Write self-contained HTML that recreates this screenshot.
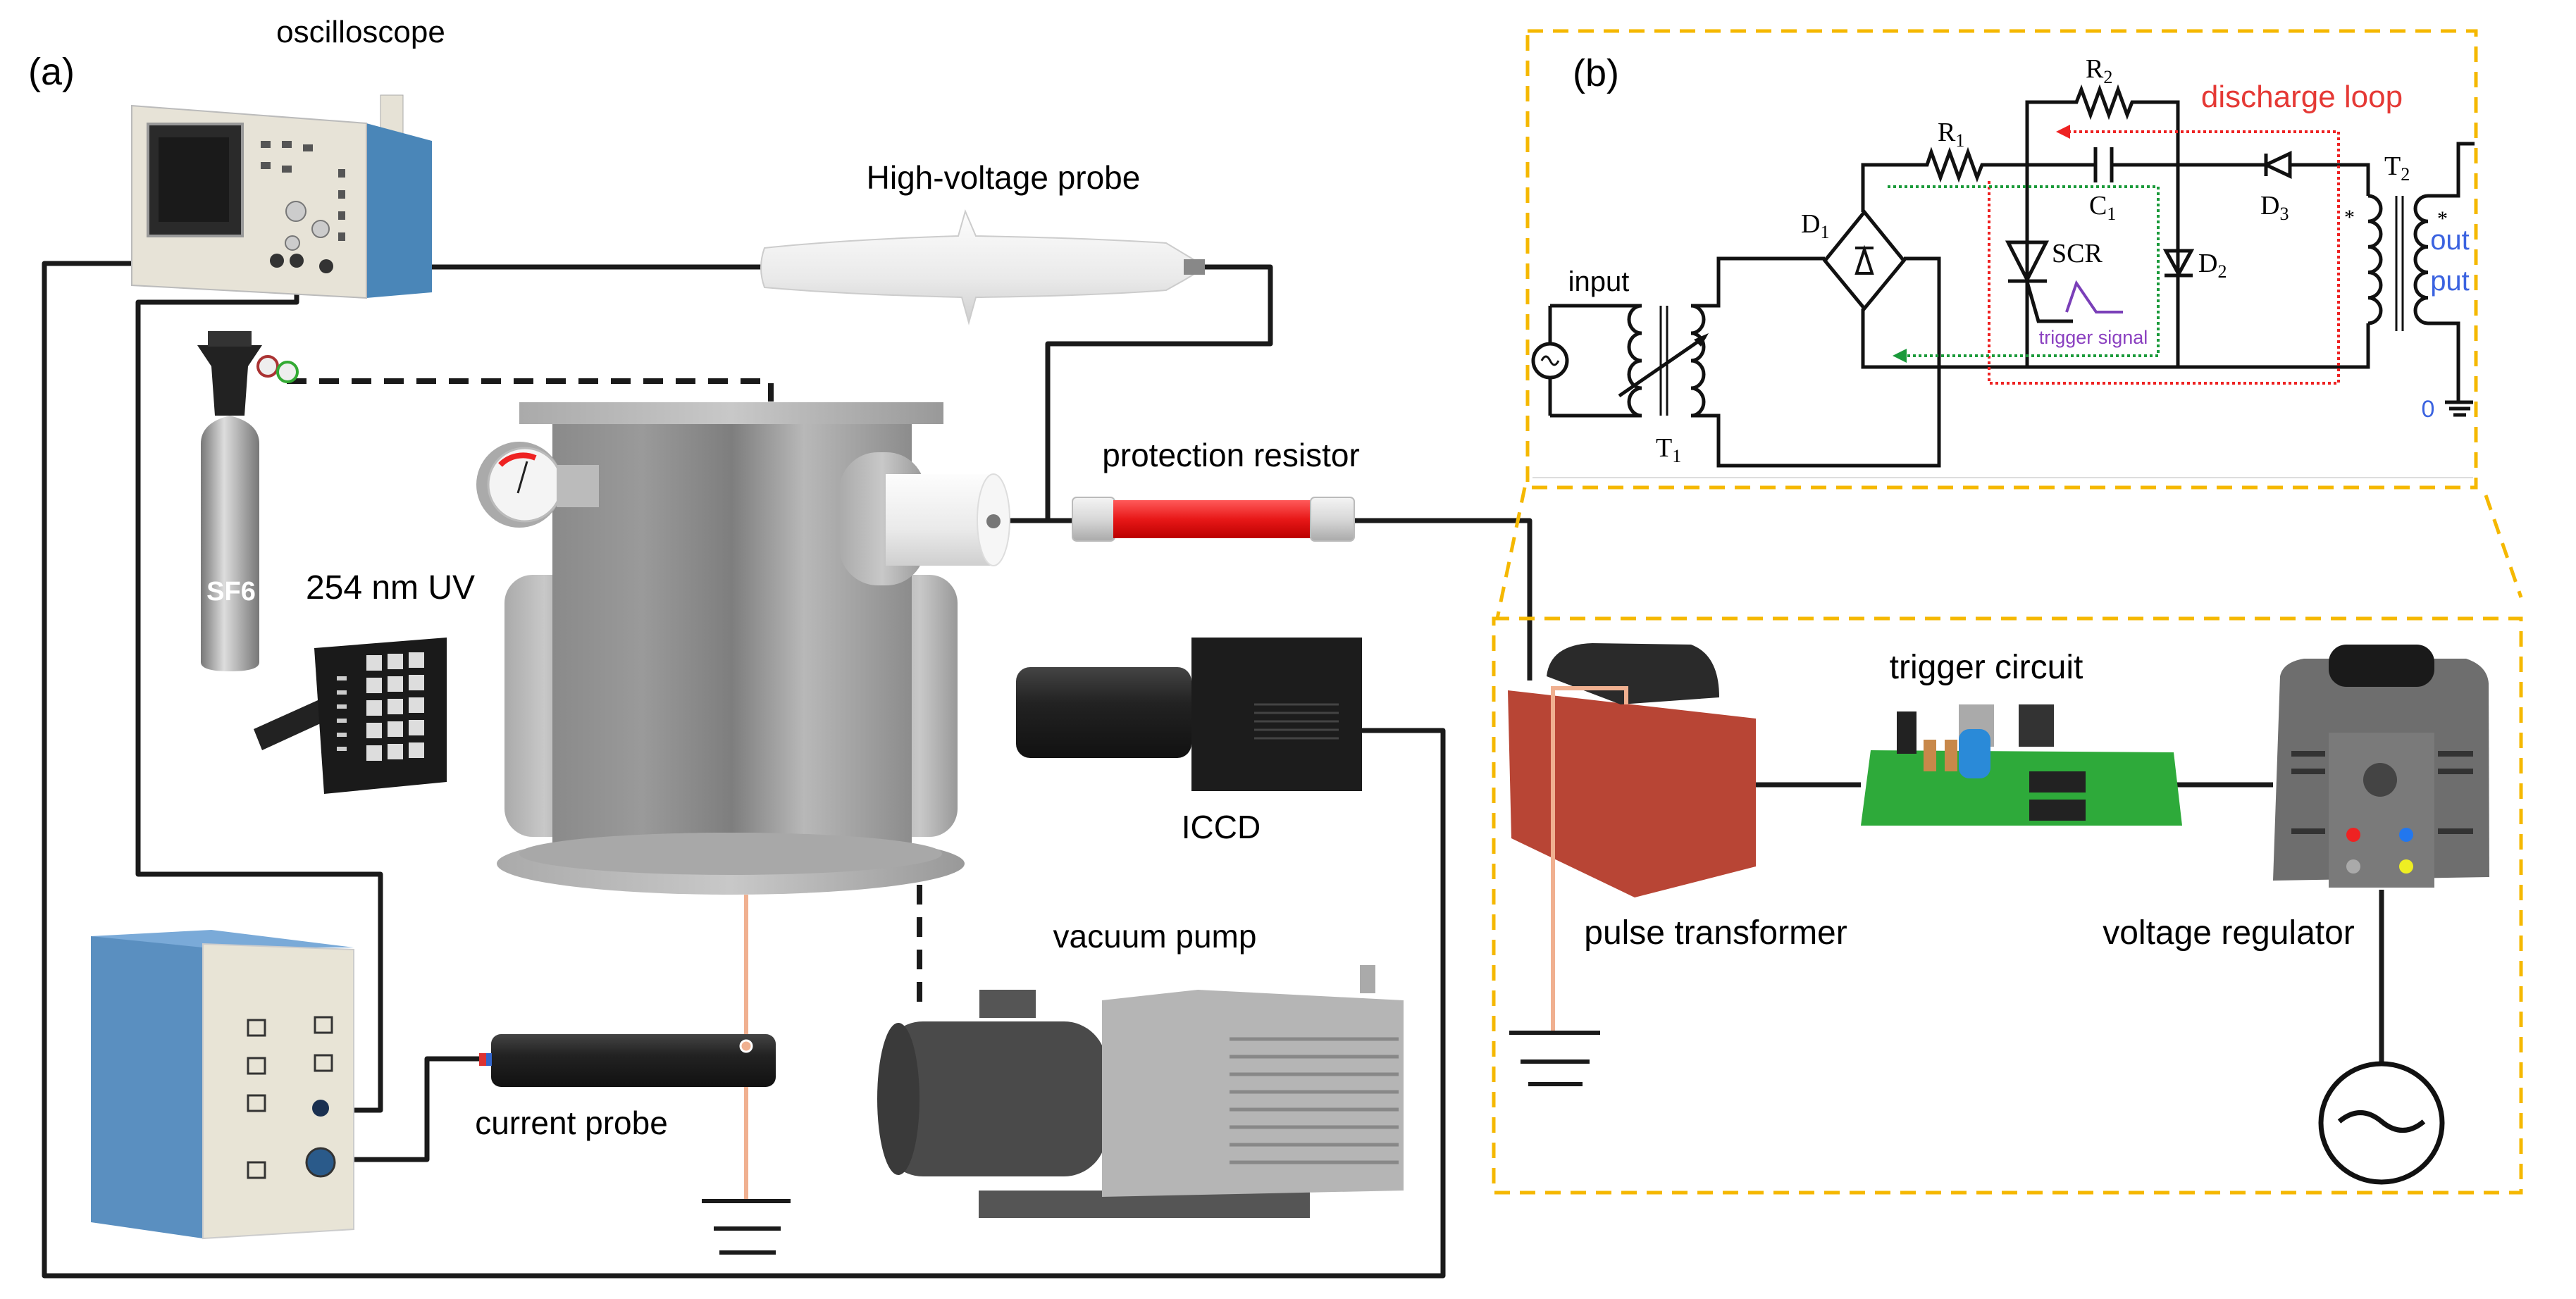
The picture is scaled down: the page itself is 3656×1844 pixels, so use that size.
<!DOCTYPE html>
<html><head><meta charset="utf-8"><style>
html,body{margin:0;padding:0;background:#fff;}
svg{display:block;}
text{font-family:"Liberation Sans",sans-serif;}
.s{font-family:"Liberation Serif",serif;}
</style></head><body>
<svg width="3656" height="1844" viewBox="0 0 3656 1844" xmlns="http://www.w3.org/2000/svg">
<defs>
<linearGradient id="steel" x1="0" x2="1" y1="0" y2="0">
<stop offset="0" stop-color="#8a8a8a"/><stop offset="0.25" stop-color="#9a9a9a"/><stop offset="0.5" stop-color="#7e7e7e"/><stop offset="0.7" stop-color="#b8b8b8"/><stop offset="1" stop-color="#8c8c8c"/></linearGradient>
<linearGradient id="flange" x1="0" x2="1"><stop offset="0" stop-color="#aaa"/><stop offset="0.5" stop-color="#c8c8c8"/><stop offset="1" stop-color="#999"/></linearGradient>
<linearGradient id="white" x1="0" x2="0" y1="0" y2="1"><stop offset="0" stop-color="#fdfdfd"/><stop offset="0.6" stop-color="#eaeaea"/><stop offset="1" stop-color="#cfcfcf"/></linearGradient>
<linearGradient id="cyl" x1="0" x2="1"><stop offset="0" stop-color="#777"/><stop offset="0.4" stop-color="#ddd"/><stop offset="1" stop-color="#777"/></linearGradient>
<linearGradient id="red" x1="0" x2="0" y1="0" y2="1"><stop offset="0" stop-color="#ff5a5a"/><stop offset="0.5" stop-color="#e81818"/><stop offset="1" stop-color="#b00"/></linearGradient>
<linearGradient id="cap" x1="0" x2="0" y1="0" y2="1"><stop offset="0" stop-color="#f4f4f4"/><stop offset="0.5" stop-color="#d8d8d8"/><stop offset="1" stop-color="#aaa"/></linearGradient>
<linearGradient id="blk" x1="0" x2="0" y1="0" y2="1"><stop offset="0" stop-color="#444"/><stop offset="0.4" stop-color="#222"/><stop offset="1" stop-color="#111"/></linearGradient>
</defs>

<text x="40" y="120" font-size="54">(a)</text>
<text x="512" y="60" font-size="44" text-anchor="middle">oscilloscope</text>
<text x="1424" y="268" font-size="46" text-anchor="middle">High-voltage probe</text>
<text x="1747" y="662" font-size="46" text-anchor="middle">protection resistor</text>
<text x="554" y="850" font-size="48" text-anchor="middle">254 nm UV</text>
<text x="1733" y="1190" font-size="46" text-anchor="middle">ICCD</text>
<text x="1639" y="1345" font-size="46" text-anchor="middle">vacuum pump</text>
<text x="811" y="1610" font-size="46" text-anchor="middle">current probe</text>

<g fill="none" stroke="#1a1a1a" stroke-width="7" stroke-linejoin="round">
<path d="M393 374 H63 V1811 H2048 V1037 H1929"/>
<path d="M421 370 V429 H196 V1241 H540 V1576 H452"/>
<path d="M463 379 H1087"/>
<path d="M1705 379 H1803 V488 H1487 V739 H1424"/>
<path d="M1487 739 H1522"/>
<path d="M1922 739 H2171 V966"/>
<path d="M688 1503 H606 V1646 H456"/>
<path d="M2492 1114 H2641 M3082 1114 H3226"/>
<path d="M3380 1263 V1510"/>
</g>
<g fill="none" stroke="#1a1a1a" stroke-width="8" stroke-dasharray="28 18">
<path d="M407 541 H1094 V570"/>
<path d="M1305 1256 V1429"/>
</g>

<!-- protection resistor -->
<rect x="1522" y="706" width="60" height="62" rx="6" fill="url(#cap)" stroke="#bbb" stroke-width="2"/>
<rect x="1580" y="710" width="282" height="54" fill="url(#red)"/>
<rect x="1860" y="706" width="62" height="62" rx="6" fill="url(#cap)" stroke="#bbb" stroke-width="2"/>

<rect x="540" y="135" width="32" height="60" fill="#e6e2d6" stroke="#aaa"/>
<path d="M520 175 L613 200 L613 415 L520 423 Z" fill="#4a86b8"/>
<path d="M187 150 L520 175 L520 423 L187 405 Z" fill="#e7e3d7" stroke="#bbb" stroke-width="2"/>
<rect x="210" y="176" width="134" height="159" fill="#2a2a2a" stroke="#999" stroke-width="4"/>
<rect x="225" y="195" width="100" height="120" fill="#1a1a1a"/>
<g fill="#555"><rect x="370" y="200" width="14" height="10"/><rect x="400" y="200" width="14" height="10"/><rect x="430" y="205" width="14" height="10"/><rect x="370" y="230" width="14" height="10"/><rect x="400" y="235" width="14" height="10"/><rect x="480" y="240" width="10" height="12"/><rect x="480" y="270" width="10" height="12"/><rect x="480" y="300" width="10" height="12"/><rect x="480" y="330" width="10" height="12"/></g>
<circle cx="420" cy="300" r="14" fill="#ccc" stroke="#777" stroke-width="2"/>
<circle cx="455" cy="325" r="12" fill="#ccc" stroke="#777" stroke-width="2"/>
<circle cx="415" cy="345" r="10" fill="#ccc" stroke="#777" stroke-width="2"/>
<circle cx="393" cy="370" r="10" fill="#333"/><circle cx="421" cy="370" r="10" fill="#333"/><circle cx="463" cy="378" r="10" fill="#333"/>

<path d="M1085 352 Q1200 340 1360 335 L1370 300 L1385 335 Q1550 338 1655 345 L1680 360 L1700 372 L1700 386 L1680 398 L1655 412 Q1550 420 1385 422 L1375 458 L1365 422 Q1200 418 1085 408 Q1075 380 1085 352 Z" fill="url(#white)" stroke="#ccc" stroke-width="2"/>
<rect x="1680" y="368" width="30" height="22" fill="#888"/>

<path d="M285 630 Q285 600 326 590 Q368 600 368 630 L368 940 Q368 953 326 953 Q285 953 285 940 Z" fill="url(#cyl)"/>
<path d="M305 590 L300 520 L280 490 L372 490 L352 520 L347 590 Z" fill="#222"/>
<rect x="295" y="470" width="62" height="22" fill="#333"/>
<circle cx="380" cy="520" r="14" fill="#eee" stroke="#a33" stroke-width="4"/>
<circle cx="408" cy="528" r="14" fill="#eee" stroke="#3a3" stroke-width="4"/>
<text x="328" y="852" font-size="38" font-weight="bold" fill="#fff" text-anchor="middle">SF6</text>

<path d="M360 1035 L460 990 L470 1020 L372 1065 Z" fill="#222"/>
<path d="M446 920 L634 905 L634 1110 L460 1127 Z" fill="#1a1a1a"/>
<g fill="#ddd"><rect x="520" y="930" width="22" height="22"/><rect x="550" y="928" width="22" height="22"/><rect x="580" y="926" width="22" height="22"/><rect x="520" y="962" width="22" height="22"/><rect x="550" y="960" width="22" height="22"/><rect x="580" y="958" width="22" height="22"/><rect x="520" y="994" width="22" height="22"/><rect x="550" y="992" width="22" height="22"/><rect x="580" y="990" width="22" height="22"/><rect x="520" y="1026" width="22" height="22"/><rect x="550" y="1024" width="22" height="22"/><rect x="580" y="1022" width="22" height="22"/><rect x="520" y="1058" width="22" height="22"/><rect x="550" y="1056" width="22" height="22"/><rect x="580" y="1054" width="22" height="22"/></g>
<g fill="#ccc"><rect x="478" y="960" width="14" height="6"/><rect x="478" y="980" width="14" height="6"/><rect x="478" y="1000" width="14" height="6"/><rect x="478" y="1020" width="14" height="6"/><rect x="478" y="1040" width="14" height="6"/><rect x="478" y="1060" width="14" height="6"/></g>

<rect x="716" y="816" width="113" height="372" rx="40" fill="url(#flange)"/>
<rect x="1252" y="816" width="107" height="372" rx="40" fill="url(#flange)"/>
<rect x="784" y="595" width="510" height="620" fill="url(#steel)"/>
<ellipse cx="1037" cy="1226" rx="332" ry="44" fill="url(#flange)"/>
<ellipse cx="1037" cy="1212" rx="300" ry="30" fill="#a8a8a8"/>
<rect x="737" y="571" width="602" height="31" fill="url(#flange)"/>
<circle cx="737" cy="688" r="61" fill="#aaa"/>
<circle cx="745" cy="688" r="52" fill="#f4f4f4" stroke="#bbb" stroke-width="3"/>
<path d="M710 660 A45 45 0 0 1 760 650" stroke="#e22" stroke-width="8" fill="none"/>
<line x1="735" y1="700" x2="748" y2="655" stroke="#222" stroke-width="3"/>
<rect x="790" y="660" width="60" height="60" fill="#bbb"/>
<rect x="1191" y="642" width="122" height="189" rx="55" fill="url(#flange)"/>
<rect x="1257" y="673" width="153" height="130" fill="url(#white)"/>
<ellipse cx="1410" cy="738" rx="23" ry="65" fill="#f6f6f6" stroke="#ddd" stroke-width="2"/>
<circle cx="1410" cy="740" r="10" fill="#777"/>

<line x1="1059" y1="1270" x2="1059" y2="1702" stroke="#f0b090" stroke-width="6"/>
<g stroke="#1a1a1a" stroke-width="6"><line x1="996" y1="1705" x2="1122" y2="1705"/><line x1="1013" y1="1744" x2="1108" y2="1744"/><line x1="1021" y1="1778" x2="1101" y2="1778"/></g>

<rect x="697" y="1468" width="404" height="75" rx="14" fill="url(#blk)"/>
<circle cx="1059" cy="1485" r="8" fill="#f0b090" stroke="#fff" stroke-width="3"/>
<rect x="680" y="1495" width="12" height="18" fill="#d33"/><rect x="690" y="1495" width="8" height="18" fill="#36c"/>

<path d="M129 1329 L288 1335 L288 1758 L129 1735 Z" fill="#5a8fc0"/>
<path d="M129 1329 L300 1320 L502 1345 L288 1345 Z" fill="#7aaad8"/>
<path d="M288 1340 L502 1348 L502 1745 L288 1758 Z" fill="#e8e4d6" stroke="#ccc" stroke-width="2"/>
<g fill="none" stroke="#333" stroke-width="3"><rect x="352" y="1448" width="24" height="22"/><rect x="352" y="1502" width="24" height="22"/><rect x="352" y="1555" width="24" height="22"/><rect x="352" y="1650" width="24" height="22"/><rect x="447" y="1444" width="24" height="22"/><rect x="447" y="1498" width="24" height="22"/></g>
<circle cx="455" cy="1573" r="12" fill="#1a3050"/><circle cx="455" cy="1650" r="20" fill="#2a5a8a" stroke="#333" stroke-width="3"/>

<rect x="1389" y="1690" width="470" height="39" fill="#555"/>
<rect x="1390" y="1405" width="80" height="40" fill="#555"/>
<rect x="1250" y="1450" width="320" height="220" rx="60" fill="#4a4a4a"/>
<ellipse cx="1275" cy="1560" rx="30" ry="108" fill="#3a3a3a"/>
<path d="M1564 1420 L1700 1405 L1992 1420 L1992 1690 L1564 1699 Z" fill="#b5b5b5"/>
<g stroke="#888" stroke-width="5"><line x1="1745" y1="1475" x2="1985" y2="1475"/><line x1="1745" y1="1500" x2="1985" y2="1500"/><line x1="1745" y1="1525" x2="1985" y2="1525"/><line x1="1745" y1="1550" x2="1985" y2="1550"/><line x1="1745" y1="1575" x2="1985" y2="1575"/><line x1="1745" y1="1600" x2="1985" y2="1600"/><line x1="1745" y1="1625" x2="1985" y2="1625"/><line x1="1745" y1="1650" x2="1985" y2="1650"/></g>
<rect x="1930" y="1370" width="22" height="40" fill="#aaa"/>

<rect x="1442" y="947" width="249" height="129" rx="20" fill="url(#blk)"/>
<rect x="1691" y="905" width="242" height="218" fill="#1c1c1c"/>
<g stroke="#444" stroke-width="3"><line x1="1780" y1="1000" x2="1900" y2="1000"/><line x1="1780" y1="1012" x2="1900" y2="1012"/><line x1="1780" y1="1024" x2="1900" y2="1024"/><line x1="1780" y1="1036" x2="1900" y2="1036"/><line x1="1780" y1="1048" x2="1900" y2="1048"/></g>

<g fill="none" stroke="#f5b800" stroke-width="5" stroke-dasharray="22 14">
<rect x="2168" y="44" width="1346" height="648"/>
<rect x="2120" y="878" width="1458" height="815"/>
<line x1="2164" y1="692" x2="2125" y2="878"/>
<line x1="3528" y1="703" x2="3578" y2="848"/>
</g>
<line x1="2175" y1="678" x2="3510" y2="678" stroke="#ddd" stroke-width="2"/>
<text x="2265" y="122" font-size="54" text-anchor="middle">(b)</text>

<g fill="none" stroke="#111" stroke-width="5">
<path d="M2877 521 V145 H2947 l7 -18 l13 36 l13 -36 l13 36 l13 -36 l13 36 l7 -18 H3091 V521"/>
<path d="M2644 301 V234 H2735 l6 -18 l13 36 l13 -36 l13 36 l13 -36 l13 36 l7 -18 H2974 M2997 234 H3216 M3250 234 H3361 V278"/>
<path d="M2974 209 V259 M2997 209 V259"/>
<path d="M2644 438 V521 H3361 V459"/>
<path d="M2646 301 L2702 370 L2646 438 L2590 370 Z"/>
<path d="M2590 367 H2439 V434 H2400 M2400 590 H2439 V661 H2752 V367 H2702"/>
<path d="M2200 434 H2330 M2200 590 H2330 M2200 434 V488 M2200 536 V590"/>
<path d="M2330 434 a18 19.5 0 0 0 0 39 a18 19.5 0 0 0 0 39 a18 19.5 0 0 0 0 39 a18 19.5 0 0 0 0 39"/>
<path d="M2400 434 a18 19.5 0 0 1 0 39 a18 19.5 0 0 1 0 39 a18 19.5 0 0 1 0 39 a18 19.5 0 0 1 0 39"/>
<path d="M2357 434 V590 M2366 434 V590" stroke-width="3"/>
<path d="M3361 278 a18 18.1 0 0 1 0 36.2 a18 18.1 0 0 1 0 36.2 a18 18.1 0 0 1 0 36.2 a18 18.1 0 0 1 0 36.2 a18 18.1 0 0 1 0 36.2"/>
<path d="M3446 278 a18 18.1 0 0 0 0 36.2 a18 18.1 0 0 0 0 36.2 a18 18.1 0 0 0 0 36.2 a18 18.1 0 0 0 0 36.2 a18 18.1 0 0 0 0 36.2"/>
<path d="M3401 278 V470 M3410 278 V470" stroke-width="3"/>
<path d="M3446 278 H3489 V204 H3512 M3446 459 H3489 V569"/>
<path d="M3470 571 H3510 M3476 580 H3506 M3482 589 H3500"/>
<path d="M2850 344 H2904 L2877 397 Z M2850 399 H2905 M2877 400 L2893 456 H2942"/>
<path d="M3074 356 H3110 L3092 389 Z M3072 391 H3112"/>
<path d="M3250 218 V250 L3216 234 Z M3216 218 V250"/>
<path d="M2635 388 H2657 L2646 354 Z M2633 352 H2659" stroke-width="4"/>
<path d="M2298 562 L2420 478"/>
</g>
<path d="M2425 473 L2404 482 L2414 492 Z" fill="#111"/>
<circle cx="2200" cy="512" r="24" fill="#fff" stroke="#111" stroke-width="5"/>
<path d="M2188 512 q6 -12 12 0 t12 0" fill="none" stroke="#111" stroke-width="3"/>
<path d="M2933 443 L2947 402 L2975 443 H3013" fill="none" stroke="#7a3fb8" stroke-width="4"/>
<g fill="none" stroke-width="4" stroke-dasharray="4 4">
<path d="M2935 187 H3319 V544 H2823 V257" stroke="#e22"/>
<path d="M2679 265 H3063 V505 H2700" stroke="#1a9a3a"/>
</g>
<path d="M2918 187 L2938 177 L2938 197 Z" fill="#e22"/>
<path d="M2686 505 L2706 495 L2706 515 Z" fill="#1a9a3a"/>

<g class="s" font-size="38">
<text x="2960" y="110" class="s">R<tspan font-size="26" dy="8">2</tspan></text>
<text x="2750" y="200" class="s">R<tspan font-size="26" dy="8">1</tspan></text>
<text x="2965" y="304" class="s">C<tspan font-size="26" dy="8">1</tspan></text>
<text x="3208" y="304" class="s">D<tspan font-size="26" dy="8">3</tspan></text>
<text x="2556" y="330" class="s">D<tspan font-size="26" dy="8">1</tspan></text>
<text x="3120" y="386" class="s">D<tspan font-size="26" dy="8">2</tspan></text>
<text x="2350" y="648" class="s">T<tspan font-size="26" dy="8">1</tspan></text>
<text x="3384" y="248" class="s">T<tspan font-size="26" dy="8">2</tspan></text>
<text x="2912" y="372" class="s">SCR</text>
<text x="3327" y="318" class="s" font-size="30">*</text>
<text x="3459" y="320" class="s" font-size="30">*</text>
</g>
<text x="2269" y="413" font-size="40" text-anchor="middle">input</text>
<text x="2971" y="488" font-size="27" fill="#8a3fc0" text-anchor="middle">trigger signal</text>
<text x="3267" y="152" font-size="44" fill="#e53935" text-anchor="middle">discharge loop</text>
<text x="3477" y="354" font-size="40" fill="#3b63e0" text-anchor="middle">out</text>
<text x="3477" y="412" font-size="40" fill="#3b63e0" text-anchor="middle">put</text>
<text x="3446" y="592" font-size="34" fill="#3b63e0" text-anchor="middle">0</text>

<path d="M2140 980 L2492 1020 L2492 1230 L2320 1274 L2145 1190 Z" fill="#b84535"/>
<path d="M2195 960 Q2200 915 2260 913 L2400 915 Q2440 930 2440 990 L2300 1000 Z" fill="#2a2a2a"/>
<path d="M2204 1465 V977 H2308 V1000" fill="none" stroke="#f0b090" stroke-width="6"/>
<g stroke="#1a1a1a" stroke-width="6"><line x1="2142" y1="1466" x2="2271" y2="1466"/><line x1="2158" y1="1507" x2="2256" y2="1507"/><line x1="2169" y1="1539" x2="2246" y2="1539"/></g>
<text x="2435" y="1340" font-size="48" text-anchor="middle">pulse transformer</text>
<path d="M2655 1065 L3085 1068 L3097 1172 L2641 1172 Z" fill="#2eaa3a"/>
<rect x="2692" y="1010" width="28" height="60" fill="#222"/>
<rect x="2780" y="1000" width="50" height="60" fill="#aaa"/><rect x="2865" y="1000" width="50" height="60" fill="#333"/>
<rect x="2780" y="1035" width="45" height="70" rx="15" fill="#2a8ad8"/>
<rect x="2880" y="1095" width="80" height="30" fill="#222"/><rect x="2880" y="1135" width="80" height="30" fill="#222"/>
<rect x="2730" y="1050" width="18" height="45" fill="#c8884a"/><rect x="2760" y="1050" width="18" height="45" fill="#c8884a"/>
<text x="2819" y="963" font-size="48" text-anchor="middle">trigger circuit</text>
<path d="M3236 960 Q3240 940 3270 935 L3500 935 Q3530 945 3532 970 L3533 1245 L3226 1250 Z" fill="#6e6e6e"/>
<rect x="3305" y="915" width="150" height="60" rx="25" fill="#1a1a1a"/>
<rect x="3305" y="1040" width="150" height="220" fill="#7a7a7a"/>
<circle cx="3378" cy="1107" r="24" fill="#444"/>
<circle cx="3340" cy="1185" r="10" fill="#e22"/><circle cx="3415" cy="1185" r="10" fill="#27e"/><circle cx="3340" cy="1230" r="10" fill="#aaa"/><circle cx="3415" cy="1230" r="10" fill="#ee2"/>
<g stroke="#333" stroke-width="8"><line x1="3252" y1="1070" x2="3300" y2="1070"/><line x1="3252" y1="1095" x2="3300" y2="1095"/><line x1="3460" y1="1070" x2="3510" y2="1070"/><line x1="3460" y1="1095" x2="3510" y2="1095"/><line x1="3252" y1="1180" x2="3300" y2="1180"/><line x1="3460" y1="1180" x2="3510" y2="1180"/></g>
<text x="3163" y="1340" font-size="48" text-anchor="middle">voltage regulator</text>
<ellipse cx="3380" cy="1594" rx="86" ry="84" fill="#fff" stroke="#111" stroke-width="7"/>
<path d="M3320 1592 q30 -25 60 0 t60 0" fill="none" stroke="#111" stroke-width="7"/>
</svg>
</body></html>
